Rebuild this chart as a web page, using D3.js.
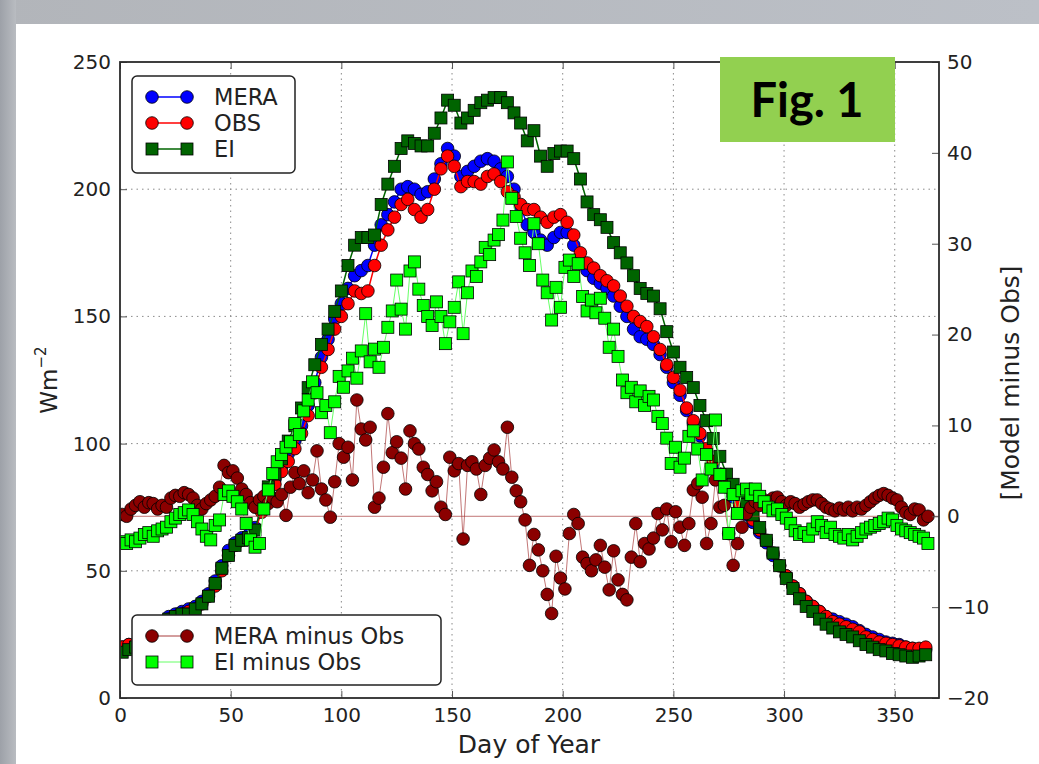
<!DOCTYPE html>
<html><head><meta charset="utf-8">
<script src="https://cdn.jsdelivr.net/npm/d3@7"></script>
<style>
body{margin:0;background:#fff;}
text{font-family:"DejaVu Sans",sans-serif;fill:#222;}
</style></head><body>
<svg id="chart" width="1039" height="764"></svg>
<script>
// daily values, every third day for the fluxes
var days3 = [1,4,7,10,13,16,19,22,25,28,31,34,37,40,43,46,49,52,55,58,
  61,64,67,70,73,76,79,82,85,88,91,94,97,100,103,106,109,112,115,118,
  121,124,127,130,133,136,139,142,145,148,151,154,157,160,163,166,169,172,175,178,
  181,184,187,190,193,196,199,202,205,208,211,214,217,220,223,226,229,232,235,238,
  241,244,247,250,253,256,259,262,265,268,271,274,277,280,283,286,289,292,295,298,
  301,304,307,310,313,316,319,322,325,328,331,334,337,340,343,346,349,352,355,358,
  361,364];
var mera = [20,21,21,21,24,27,30,32,33,34,
  35,36,38,41,46,52,58,61,63,64,
  67,74,80,86,91,96,101,107,115,124,
  134,141,149,155,161,166,168,170,178,186,
  190,195,200,201,200,198,199,204,210,216,
  213,205,207,209,211,212,211,208,205,200,
  193,186,183,180,178,181,183,183,178,172,
  168,165,163,161,158,154,150,145,142,141,
  139,135,130,124,119,113,108,103,97,92,
  87,83,79,75,72,69,65,61,56,52,
  48,44,41,38,36,34,32,31,30,29,
  28,26.5,25,24,23,22,21.5,21,20,19.5,
  19,19];
var obs = [20,21,21,21,23,26,29,31,32,33,
  34,35,37,40,44,50,56,60,62,63,
  66,73,79,84,89,93,98,104,111,120,
  130,137,145,150,155,160,159,160,170,178,
  184,189,194,196,192,189,192,200,208,213,
  209,201,203,203,202,205,206,203,199,197,
  194,192,192,189,187,189,190,187,182,175,
  171,169,166,164,162,158,154,150,148,146,
  142,137,131,126,121,114,109,104,98,93,
  88,84,80,76,73,70,66,62,57,52,
  48,44,41,38,36,34,32,30,29,28,
  27,26,24,23,22,21.5,21,20.5,20,19.5,
  19.5,20];
var ei = [18,19,20,21,24,27,30,31,32,33,
  33,35,37,40,45,51,56,60,62,63,
  66,76,83,88,94,101,107,114,122,131,
  139,145,152,160,170,178,181,181,182,194,
  202,209,216,219,218,217,217,222,228,235,
  233,226,228,231,234,235,236,236,234,230,
  226,219,223,213,209,214,215,215,212,204,
  195,190,188,185,179,175,171,166,161,159,
  158,153,144,136,130,126,122,115,109,102,
  95,88,84,80,76,72,67,62,57,52,
  47,43,39,36,34,31,29,27.5,26,25,
  24,22.5,21,20,19,18.5,17.5,17,16.5,16,
  16.5,17];

// differences, every second day
var days2 = [1,3,5,7,9,11,13,15,17,19,21,23,25,27,29,31,33,35,37,39,
  41,43,45,47,49,51,53,55,57,59,61,63,65,67,69,71,73,75,77,79,
  81,83,85,87,89,91,93,95,97,99,101,103,105,107,109,111,113,115,117,119,
  121,123,125,127,129,131,133,135,137,139,141,143,145,147,149,151,153,155,157,159,
  161,163,165,167,169,171,173,175,177,179,181,183,185,187,189,191,193,195,197,199,
  201,203,205,207,209,211,213,215,217,219,221,223,225,227,229,231,233,235,237,239,
  241,243,245,247,249,251,253,255,257,259,261,263,265,267,269,271,273,275,277,279,
  281,283,285,287,289,291,293,295,297,299,301,303,305,307,309,311,313,315,317,319,
  321,323,325,327,329,331,333,335,337,339,341,343,345,347,349,351,353,355,357,359,
  361,363,365];
var meraMinusObs = [0.2,0.0,0.8,1.2,1.6,1.0,1.5,1.4,0.8,1.2,
  1.0,2.0,2.3,2.2,2.6,2.4,2.0,1.2,0.8,1.4,
  1.8,2.2,3.2,5.6,4.8,5.0,4.2,3.0,2.4,1.5,
  1.0,1.8,2.2,1.4,2.0,1.6,2.4,0.1,3.2,4.8,
  3.6,5.0,2.6,4.0,7.2,3.0,1.8,-0.1,3.8,8.0,
  6.5,7.6,4.0,12.8,9.6,8.4,9.8,1.0,2.0,5.4,
  11.3,7.0,8.2,6.4,3.0,9.4,8.0,7.4,5.4,4.6,
  2.8,3.8,1.0,0.2,6.5,5.0,5.8,-2.5,5.6,6.0,
  5.2,2.4,5.6,6.4,7.3,6.0,5.2,9.8,4.3,2.8,
  1.6,-0.4,-5.4,-2.0,-3.7,-6.0,-8.6,-10.7,-4.4,-6.8,
  -8.0,-1.9,0.2,-0.8,-4.5,-5.2,-6.0,-4.8,-3.2,-5.6,
  -8.1,-3.8,-7.0,-8.6,-9.2,-4.5,-0.8,-5.0,-3.0,-3.6,
  -2.4,0.3,-1.5,0.8,-2.8,0.5,-1.2,-3.2,-0.8,2.9,
  3.6,2.1,-3.0,-0.8,4.0,1.0,1.2,-1.9,-5.4,-3.0,
  -1.2,0.3,1.0,1.6,1.2,1.8,1.4,2.0,2.1,1.6,
  1.2,1.6,1.4,1.0,1.3,1.6,1.8,1.8,1.4,1.0,
  0.8,0.6,0.9,0.7,1.0,0.6,1.0,0.8,1.2,1.6,
  2.0,2.3,2.5,2.3,2.0,1.8,1.0,0.4,0.2,0.8,
  0.7,-0.4,0.0];
var eiMinusObs = [-2.8,-3.0,-2.6,-2.8,-2.4,-2.0,-1.8,-2.2,-1.6,-1.4,
  -1.2,-0.6,-0.2,0.2,0.4,0.7,0.2,-0.6,-1.4,-2.2,
  -2.6,-1.0,-0.4,2.4,2.8,2.2,1.6,0.8,-0.8,-2.6,
  -3.4,-3.0,0.8,2.9,4.7,6.0,6.8,7.6,8.2,10.2,
  9.0,11.6,12.8,14.8,13.6,11.4,12.2,9.2,12.6,15.4,
  14.2,16.0,17.4,15.2,18.2,22.3,17.0,18.4,16.4,18.6,
  20.8,22.6,26.0,22.8,20.6,27.0,28.0,25.0,23.2,22.0,
  21.0,23.6,22.0,19.0,21.4,23.0,25.8,20.1,24.6,27.0,
  26.4,28.0,29.6,28.8,30.4,31.0,32.6,39.0,35.0,33.0,
  30.6,29.0,27.6,32.2,30.0,26.0,24.6,21.6,25.2,23.0,
  27.4,28.2,26.4,27.8,24.2,22.6,23.8,22.4,24.0,21.8,
  18.6,20.6,17.6,15.0,13.6,14.2,12.6,13.8,12.2,13.2,
  12.8,11.0,10.2,8.6,5.8,7.6,5.4,6.4,8.8,9.4,
  7.4,4.0,6.8,5.2,10.6,4.6,3.2,-1.9,2.4,0.3,
  2.8,3.0,2.4,3.0,2.2,1.6,1.0,0.6,0.8,0.2,
  -0.2,-0.8,-1.6,-2.0,-1.8,-2.2,-1.4,-0.6,-1.0,-1.8,
  -1.2,-2.0,-2.2,-2.4,-2.0,-2.6,-2.2,-1.8,-1.4,-1.2,
  -1.0,-0.8,-0.6,-0.2,-0.4,-1.0,-1.4,-1.6,-1.8,-2.0,
  -2.2,-2.4,-3.0];

var xTicks = [0,50,100,150,200,250,300,350];
var leftTicks = [0,50,100,150,200,250];
var rightTicks = [-20,-10,0,10,20,30,40,50];

var margin = {top: 62, left: 120},
    width = 939 - 120,
    height = 698 - 62;

var svg = d3.select("#chart");

// slide background
var defs = svg.append("defs");
var gr = defs.append("linearGradient").attr("id", "bandTop").attr("x1", 0).attr("x2", 1);
gr.append("stop").attr("offset", 0).attr("stop-color", "#b2b5ba");
gr.append("stop").attr("offset", 1).attr("stop-color", "#bcc0c7");
var gl = defs.append("linearGradient").attr("id", "bandLeft").attr("x1", 0).attr("x2", 1);
gl.append("stop").attr("offset", 0).attr("stop-color", "#9da1a8");
gl.append("stop").attr("offset", 1).attr("stop-color", "#b9bcc1");
svg.append("rect").attr("width", 1039).attr("height", 24).attr("fill", "url(#bandTop)");
svg.append("rect").attr("width", 16).attr("height", 764).attr("fill", "url(#bandLeft)");

defs.append("clipPath").attr("id", "plotClip")
  .append("rect").attr("width", width).attr("height", height);

var g = svg.append("g")
  .attr("transform", "translate(" + margin.left + "," + margin.top + ")");

var x = d3.scaleLinear().domain([0, 370]).range([0, width]);
var yL = d3.scaleLinear().domain([0, 250]).range([height, 0]);
var yR = d3.scaleLinear().domain([-20, 50]).range([height, 0]);

// grid
g.append("g").selectAll("line").data(xTicks.filter(function(d) { return d > 0; }))
  .enter().append("line")
  .attr("x1", function(d) { return x(d); }).attr("x2", function(d) { return x(d); })
  .attr("y1", 0).attr("y2", height)
  .attr("stroke", "#8a8a8a").attr("stroke-width", 1).attr("stroke-dasharray", "1.5,4");
g.append("g").selectAll("line").data(leftTicks.filter(function(d) { return d > 0 && d < 250; }))
  .enter().append("line")
  .attr("y1", function(d) { return yL(d); }).attr("y2", function(d) { return yL(d); })
  .attr("x1", 0).attr("x2", width)
  .attr("stroke", "#8a8a8a").attr("stroke-width", 1).attr("stroke-dasharray", "1.5,4");

var plot = g.append("g").attr("clip-path", "url(#plotClip)");

function drawSeries(dx, vals, y, lineColor, lineWidth, fill, shape, lineOpacity) {
  var pts = dx.map(function(d, i) { return [d, vals[i]]; });
  var line = d3.line().x(function(d) { return x(d[0]); }).y(function(d) { return y(d[1]); });
  plot.append("path").datum(pts)
    .attr("d", line)
    .attr("fill", "none")
    .attr("stroke", lineColor)
    .attr("stroke-width", lineWidth)
    .attr("stroke-opacity", lineOpacity || 1);
  var mk = plot.append("g");
  if (shape == "circle") {
    mk.selectAll("circle").data(pts).enter().append("circle")
      .attr("cx", function(d) { return x(d[0]); })
      .attr("cy", function(d) { return y(d[1]); })
      .attr("r", 6.3)
      .attr("fill", fill).attr("stroke", "#000").attr("stroke-width", 0.8);
  } else {
    mk.selectAll("rect").data(pts).enter().append("rect")
      .attr("x", function(d) { return x(d[0]) - 6; })
      .attr("y", function(d) { return y(d[1]) - 6; })
      .attr("width", 12).attr("height", 12)
      .attr("fill", fill).attr("stroke", "#000").attr("stroke-width", 0.8);
  }
}

drawSeries(days3, mera, yL, "#0000ff", 1.5, "#0000ff", "circle");
drawSeries(days3, obs, yL, "#ff0000", 1.5, "#ff0000", "circle");
drawSeries(days3, ei, yL, "#006400", 1.5, "#006400", "square");

// zero line of the right axis
plot.append("line")
  .attr("x1", 0).attr("x2", width)
  .attr("y1", yR(0)).attr("y2", yR(0))
  .attr("stroke", "#a83c3c").attr("stroke-opacity", 0.7).attr("stroke-width", 1);

drawSeries(days2, meraMinusObs, yR, "#a83c3c", 1, "#8b0000", "circle", 0.7);
drawSeries(days2, eiMinusObs, yR, "#66ff66", 1, "#00ff00", "square");

// axes
function styleAxis(sel) {
  sel.select(".domain").remove();
  sel.selectAll(".tick line").attr("stroke", "#555").attr("stroke-width", 1);
  sel.selectAll(".tick text").attr("font-size", 20).style("fill", "#222");
}
g.append("g").attr("transform", "translate(0," + height + ")")
  .call(d3.axisBottom(x).tickValues(xTicks).tickSize(-7).tickPadding(10))
  .call(styleAxis);
g.append("g")
  .call(d3.axisTop(x).tickValues(xTicks).tickSize(-7).tickFormat(""))
  .call(styleAxis);
g.append("g")
  .call(d3.axisLeft(yL).tickValues(leftTicks).tickSize(-7).tickPadding(9))
  .call(styleAxis);
g.append("g").attr("transform", "translate(" + width + ",0)")
  .call(d3.axisRight(yR).tickValues(rightTicks).tickSize(-7).tickPadding(8)
    .tickFormat(function(d) { return d < 0 ? "\u2212" + Math.abs(d) : d; }))
  .call(styleAxis);

g.append("rect").attr("width", width).attr("height", height)
  .attr("fill", "none").attr("stroke", "#2b2b2b").attr("stroke-width", 1.8);

// axis labels
svg.append("text").attr("x", 529).attr("y", 753).attr("text-anchor", "middle")
  .attr("font-size", 25).text("Day of Year");
var yl = svg.append("text").attr("transform", "translate(57,380) rotate(-90)")
  .attr("text-anchor", "middle").attr("font-size", 23);
yl.append("tspan").text("Wm");
yl.append("tspan").attr("dy", -11).attr("font-size", 15).text("\u22122");
svg.append("text").attr("transform", "translate(1019,383) rotate(-90)")
  .attr("text-anchor", "middle").attr("font-size", 25).text("[Model minus Obs]");

// legends
function legend(x0, y0, w, h, items) {
  var lg = svg.append("g");
  lg.append("rect").attr("x", x0).attr("y", y0).attr("width", w).attr("height", h)
    .attr("rx", 5).attr("fill", "#fff").attr("stroke", "#222").attr("stroke-width", 1.5);
  items.forEach(function(it, i) {
    var yy = y0 + 21 + i * 26;
    lg.append("line").attr("x1", 152).attr("x2", 187).attr("y1", yy).attr("y2", yy)
      .attr("stroke", it.line).attr("stroke-width", it.lw);
    [152, 187].forEach(function(cx) {
      if (it.shape == "circle") {
        lg.append("circle").attr("cx", cx).attr("cy", yy).attr("r", 6.3)
          .attr("fill", it.fill).attr("stroke", "#000").attr("stroke-width", 0.8);
      } else {
        lg.append("rect").attr("x", cx - 6).attr("y", yy - 6).attr("width", 12).attr("height", 12)
          .attr("fill", it.fill).attr("stroke", "#000").attr("stroke-width", 0.8);
      }
    });
    lg.append("text").attr("x", 214).attr("y", yy + 8).attr("font-size", 22.5)
      .style("font-size", "22.5px").text(it.label);
  });
}
legend(132, 76, 163, 97, [
  {label: "MERA", line: "#0000ff", lw: 1.5, fill: "#0000ff", shape: "circle"},
  {label: "OBS", line: "#ff0000", lw: 1.5, fill: "#ff0000", shape: "circle"},
  {label: "EI", line: "#006400", lw: 1.5, fill: "#006400", shape: "square"}
]);
legend(132, 615, 309, 70, [
  {label: "MERA minus Obs", line: "#a83c3c", lw: 1, fill: "#8b0000", shape: "circle"},
  {label: "EI minus Obs", line: "#66ff66", lw: 1, fill: "#00ff00", shape: "square"}
]);

// figure tag
svg.append("rect").attr("x", 720).attr("y", 57).attr("width", 175).attr("height", 85)
  .attr("fill", "#92d050");
svg.append("text").attr("x", 807).attr("y", 117).attr("text-anchor", "middle")
  .style("font-family", "Lato, 'Open Sans', sans-serif").style("font-weight", "bold")
  .style("font-size", "47px").style("fill", "#000").text("Fig. 1");
</script>
</body></html>
